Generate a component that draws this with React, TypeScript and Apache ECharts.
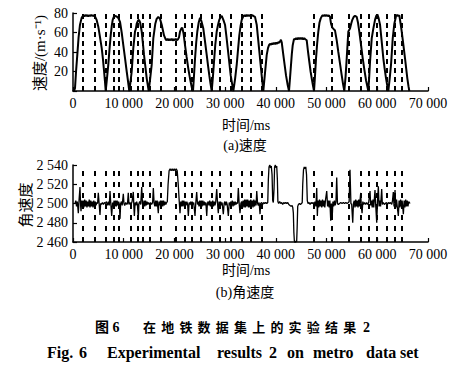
import React, { useEffect, useRef } from "react";
import * as echarts from "echarts";

// x positions (ms) of the dashed segment boundaries
const segmentBounds: number[] = [
  1972, 4338, 6508, 8085, 9071, 11438, 12818, 13804, 15184, 17354, 20312, 22086,
  23467, 25242, 27411, 28988, 31158, 33327, 35102, 37271, 47526, 51075, 54428,
  56794, 58372, 59950, 61922, 63499, 64880,
];

const xTicks = { min: 0, max: 70000, interval: 10000 };
const speedTicks = { min: 0, max: 80, interval: 20 };
const angTicks = { min: 2460, max: 2540, interval: 20 };

// speed (m/s) vs time (ms)
const speedPart1: [number, number][] = [
  [200, 0], [394, 3], [600, 20], [848, 37], [1100, 55], [1380, 68], [1700, 75], [2031, 77.5],
  [2200, 76.5], [2400, 78], [2600, 76.8], [2800, 77.9], [3000, 76.6], [3200, 77.8], [3400, 76.9],
  [3600, 78.1], [3800, 77], [4000, 77.7], [4200, 76.8], [4338, 76.5],
  [4650, 73], [4989, 66], [5300, 56], [5660, 44], [5900, 33], [6113, 21], [6300, 10], [6448, 0],
  [6700, 13], [6961, 27], [7200, 43], [7434, 57], [7650, 67], [7829, 73], [8050, 76], [8282, 77],
  [8600, 76.5], [8933, 75], [9268, 71], [9600, 60], [9919, 47], [10250, 34], [10590, 20], [10850, 10], [11102, 0],
  [11350, 10], [11576, 20], [11891, 44], [12226, 61], [12400, 64], [12562, 69], [12800, 72], [13015, 73],
  [13250, 70], [13548, 61], [13800, 48], [14001, 37], [14250, 26], [14533, 13], [14928, 0],
  [15200, 12], [15520, 27], [15835, 54], [16230, 69], [16500, 74], [16821, 76], [17150, 74], [17492, 68],
  [17945, 57], [18280, 53],
  [18450, 52], [18650, 53.5], [18850, 51.8], [19050, 53.2], [19250, 52], [19450, 53.6], [19650, 51.7],
  [19850, 53.3], [20050, 52], [20250, 53.5], [20450, 52.2], [20700, 53], [20903, 55],
  [21100, 61], [21350, 64], [21554, 65], [21800, 59], [22086, 47], [22400, 35], [22737, 23], [23100, 12],
  [23408, 4], [23664, 0],
];
const speedPart2: [number, number][] = [
  [23850, 15], [24058, 33], [24300, 50], [24512, 61], [24780, 70], [25044, 75], [25300, 72], [25695, 64],
  [26050, 50], [26366, 37], [26650, 25], [26878, 16], [27100, 8], [27352, 0],
  [27580, 14], [27805, 30], [28050, 47], [28338, 61], [28600, 68], [28850, 73], [29100, 76], [29324, 77],
  [29650, 73], [29974, 68], [30250, 56], [30507, 44], [30800, 30], [31098, 16], [31350, 8], [31611, 0],
  [31950, 12], [32282, 27], [32550, 43], [32794, 57], [33050, 67], [33268, 73], [33584, 76.5],
  [33800, 77.8], [34000, 76.6], [34200, 78], [34400, 76.8], [34600, 77.9], [34800, 76.7], [35000, 78.1],
  [35200, 77], [35400, 77.8], [35600, 76.8], [35890, 76],
  [36226, 68], [36450, 56], [36679, 44], [37074, 23], [37300, 11], [37528, 0],
  [37850, 18], [38198, 37], [38450, 44], [38651, 47], [38850, 48.5], [39050, 47.5], [39250, 49],
  [39450, 48], [39650, 49.3], [39850, 48.2], [40050, 49.5], [40250, 48.5], [40450, 50], [40650, 49.5],
  [40850, 51], [41000, 52.5], [41156, 50], [41471, 37], [41750, 26], [42004, 16], [42300, 7], [42595, 0],
  [42800, 14], [42990, 27], [43150, 38], [43325, 47], [43581, 53.5], [43800, 52.8], [44000, 54.2],
  [44200, 53], [44400, 54.5], [44600, 53.3], [44800, 54.6], [45000, 53.2], [45200, 54.4], [45400, 53],
  [45600, 54.2], [45800, 53.1], [46086, 52], [46350, 40], [46599, 30], [46850, 20], [47072, 13],
  [47300, 6], [47526, 0],
];
const speedPart3: [number, number][] = [
  [47700, 14], [47921, 33.5], [48150, 49], [48374, 61], [48600, 70], [48847, 74.5], [49044, 76.5],
  [49250, 77.8], [49450, 76.8], [49650, 78], [49850, 77], [50050, 77.8], [50250, 76.8], [50450, 77.5],
  [50680, 76], [50878, 69], [51134, 65], [51400, 63.5], [51666, 62], [52000, 52], [52317, 40],
  [52650, 28], [52988, 16], [53250, 7], [53500, 0],
  [53750, 15], [53973, 33.5], [54289, 61], [54624, 64], [54850, 69], [55078, 73], [55350, 76], [55610, 77],
  [55946, 76], [56200, 70], [56458, 61], [56800, 47], [57129, 33.5], [57450, 22], [57780, 11], [58233, 0],
  [58400, 14], [58568, 30], [58750, 43], [58904, 54], [59219, 64], [59554, 73], [59800, 77], [60008, 78.5],
  [60250, 75], [60540, 68], [60850, 52], [61192, 33.5], [61450, 23], [61724, 13], [61950, 6], [62178, 0],
  [62450, 13], [62710, 27], [62900, 42], [63045, 54], [63361, 69], [63696, 77], [63900, 78], [64100, 77],
  [64347, 77.5], [64600, 69], [64820, 61], [65150, 47], [65470, 33.5], [65700, 23], [65924, 13],
  [66150, 5], [66319, 0],
];

// angular velocity vs time (ms)
const angularPart1: [number, number][] = [
  [400, 2500], [550, 2503], [700, 2497], [850, 2502], [1050, 2490], [1200, 2504], [1380, 2517], [1500, 2498],
  [1580, 2492], [1700, 2503], [1850, 2497], [2000, 2503], [2150, 2496], [2300, 2504], [2450, 2497],
  [2600, 2503], [2750, 2496], [2900, 2502], [3050, 2497], [3200, 2504], [3350, 2496], [3500, 2503],
  [3650, 2497], [3800, 2502], [3950, 2496], [4100, 2503], [4250, 2497], [4400, 2502], [4550, 2498],
  [4700, 2501], [4850, 2500], [4990, 2511], [5150, 2500], [5320, 2488], [5450, 2500], [5600, 2499],
  [5800, 2501], [6000, 2499], [6200, 2501], [6400, 2500], [6600, 2502], [6800, 2498], [7000, 2502],
  [7150, 2498], [7300, 2513], [7450, 2500], [7630, 2487], [7800, 2501], [7950, 2497], [8100, 2503],
  [8250, 2497], [8400, 2503], [8550, 2497], [8700, 2503], [8850, 2498], [9000, 2502], [9150, 2499],
  [9270, 2484], [9400, 2500], [9550, 2502], [9700, 2498], [9920, 2510], [10050, 2500], [10200, 2498],
  [10400, 2501], [10600, 2499], [10750, 2500], [10900, 2511], [11050, 2499], [11250, 2501], [11450, 2499],
  [11650, 2502], [11890, 2512], [12000, 2497], [12100, 2487], [12250, 2501], [12400, 2498], [12550, 2502],
  [12700, 2499], [12880, 2485], [13000, 2500], [13150, 2502], [13350, 2499], [13550, 2517], [13700, 2500],
  [13850, 2497], [14000, 2503], [14150, 2497], [14300, 2503], [14450, 2498], [14600, 2502], [14750, 2499],
  [14900, 2501], [15100, 2499], [15300, 2501], [15500, 2499], [15700, 2501], [15840, 2516], [16000, 2500],
  [16150, 2497], [16300, 2503], [16450, 2497], [16600, 2503], [16820, 2490], [16950, 2502], [17100, 2498],
  [17250, 2503], [17400, 2497], [17550, 2503], [17700, 2497], [17850, 2503], [18000, 2498], [18150, 2502],
  [18300, 2499], [18450, 2501], [18600, 2502],
  [18750, 2520], [18950, 2534], [19150, 2536], [19350, 2534], [19550, 2536], [19750, 2534], [19950, 2536],
  [20150, 2534], [20350, 2536], [20550, 2534], [20750, 2520], [20950, 2502],
];
const angularPart2: [number, number][] = [
  [21100, 2490], [21250, 2502], [21400, 2497], [21550, 2503], [21700, 2497], [21850, 2503], [22000, 2498],
  [22150, 2502], [22300, 2498], [22450, 2502], [22600, 2499], [22740, 2487], [22900, 2501], [23050, 2499],
  [23200, 2502], [23350, 2498], [23500, 2502], [23650, 2499], [23800, 2501], [24060, 2487], [24200, 2500],
  [24390, 2512], [24550, 2499], [24700, 2502], [24850, 2497], [25000, 2503], [25150, 2497], [25300, 2503],
  [25450, 2497], [25600, 2503], [25750, 2498], [25900, 2502], [26050, 2498], [26200, 2501], [26370, 2487],
  [26500, 2500], [26650, 2502], [26800, 2498], [26950, 2503], [27100, 2497], [27250, 2502], [27400, 2498],
  [27550, 2503], [27700, 2497], [27850, 2502], [28000, 2498], [28150, 2502], [28340, 2515], [28500, 2500],
  [28650, 2490], [28800, 2502], [28950, 2498], [29100, 2502], [29250, 2498], [29400, 2501], [29640, 2489],
  [29800, 2500], [29950, 2502], [30100, 2498], [30250, 2502], [30400, 2499], [30630, 2487], [30800, 2501],
  [30950, 2498], [31100, 2502], [31250, 2498], [31400, 2503], [31550, 2497], [31700, 2502], [31850, 2498],
  [32000, 2502], [32150, 2499], [32300, 2501], [32450, 2500], [32600, 2516], [32750, 2501], [32930, 2490],
  [33100, 2500], [33250, 2502], [33400, 2498], [33550, 2503], [33700, 2496], [33850, 2504], [34000, 2496],
  [34150, 2504], [34300, 2497], [34450, 2504], [34600, 2496], [34750, 2503], [34900, 2496], [35050, 2504],
  [35200, 2497], [35350, 2503], [35500, 2496], [35650, 2504], [35800, 2497], [35950, 2503], [36100, 2498],
  [36230, 2513], [36400, 2500], [36550, 2498], [36700, 2501], [36880, 2489], [37000, 2500], [37200, 2501],
  [37400, 2499], [37600, 2501], [37800, 2500], [38000, 2501], [38200, 2500], [38400, 2501],
  [38520, 2525], [38650, 2538], [38800, 2540], [38950, 2537], [39100, 2539], [39250, 2530], [39380, 2503],
  [39500, 2501], [39640, 2515], [39750, 2538], [39900, 2540], [40050, 2537], [40170, 2539], [40300, 2525],
  [40400, 2502],
];
const angularPart3: [number, number][] = [
  [40550, 2500], [40750, 2502], [40950, 2500], [41150, 2501], [41350, 2499], [41550, 2501], [41750, 2500],
  [41950, 2501], [42150, 2500], [42350, 2501], [42550, 2499], [42790, 2498], [43000, 2497], [43200, 2498],
  [43330, 2496], [43450, 2490], [43550, 2470], [43650, 2461], [43800, 2459], [43950, 2461], [44100, 2460],
  [44200, 2475], [44310, 2497], [44450, 2499], [44650, 2500], [44850, 2499], [45050, 2500], [45200, 2501],
  [45300, 2520], [45450, 2535], [45600, 2538], [45750, 2536], [45900, 2538], [46050, 2530], [46200, 2503],
  [46350, 2500], [46550, 2501], [46750, 2499], [46950, 2501], [47150, 2500], [47350, 2501], [47550, 2499],
  [47720, 2502], [47900, 2497], [48060, 2516], [48180, 2487], [48300, 2503], [48450, 2496], [48600, 2504],
  [48750, 2497], [48900, 2503], [49050, 2496], [49200, 2504], [49350, 2497], [49500, 2503], [49650, 2496],
  [49800, 2504], [50030, 2513], [50200, 2497], [50350, 2503], [50500, 2496], [50650, 2503], [50820, 2482],
  [50950, 2500], [51100, 2484], [51250, 2502], [51400, 2497], [51550, 2503], [51700, 2498], [51850, 2502],
  [52000, 2527], [52150, 2500], [52320, 2499], [52550, 2500], [52800, 2501], [53050, 2500], [53300, 2501],
  [53550, 2500], [53800, 2501], [54050, 2500], [54290, 2501], [54450, 2502], [54620, 2535], [54800, 2500],
  [54950, 2499], [55160, 2480], [55300, 2500], [55450, 2503], [55600, 2496], [55750, 2504], [55900, 2497],
  [56050, 2503], [56200, 2496], [56350, 2504], [56500, 2497], [56730, 2511], [56850, 2497], [57000, 2490],
  [57150, 2502], [57300, 2499], [57500, 2501], [57700, 2499], [57900, 2501], [58100, 2499], [58300, 2501],
  [58570, 2513], [58700, 2498], [58850, 2503], [59000, 2496], [59150, 2504], [59300, 2496], [59550, 2514],
  [59700, 2497], [59890, 2480], [60050, 2503], [60210, 2518], [60350, 2497], [60500, 2503], [60650, 2497],
  [60870, 2515], [61000, 2499], [61200, 2501], [61400, 2499], [61600, 2500], [61800, 2501], [62000, 2499],
  [62200, 2501], [62400, 2500], [62600, 2501], [62850, 2499], [63000, 2503], [63160, 2512], [63300, 2497],
  [63500, 2514], [63650, 2496], [63800, 2504], [63950, 2496], [64150, 2487], [64300, 2503], [64450, 2496],
  [64600, 2504], [64750, 2497], [64900, 2503], [65140, 2489], [65300, 2503], [65450, 2496], [65600, 2504],
  [65750, 2497], [65900, 2503], [66050, 2497], [66200, 2502], [66460, 2500],
];

const yNameTop = "速度/(m·s⁻¹)";
const yNameBottom = "角速度";
const xName = "时间/ms";
const subTitleA = "(a)速度";
const subTitleB = "(b)角速度";
const captionCnHead = "图 6";
const captionCnBody = "在地铁数据集上的实验结果";
const captionCnTail = "2";
const captionEnWords = ["Fig.", "6", "Experimental", "results", "2", "on", "metro", "data", "set"];

const FONT = '"Liberation Serif", "Noto Sans CJK SC", serif';

const fmt = (v: number) =>
  v === 0 ? "0" : String(v).replace(/\B(?=(\d{3})+(?!\d))/g, " ");

export default function App() {
  const ref = useRef<HTMLDivElement>(null);
  useEffect(() => {
    if (!ref.current) return;
    const chart = echarts.init(ref.current, null, { renderer: "svg" });
    const axisLine = { show: true, lineStyle: { color: "#000", width: 1.5 } };
    const axisTick = { show: true, inside: true, length: 4, lineStyle: { color: "#000", width: 1.2 } };
    const labelStyle = { color: "#000", fontFamily: FONT, fontSize: 14 };
    const mark = (dash: number[]) => ({
      silent: true,
      symbol: ["none", "none"],
      label: { show: false },
      lineStyle: { color: "#000", type: dash, width: 2, opacity: 1 },
      data: segmentBounds.map((x) => ({ xAxis: x })),
    });

    const enX = [47, 79, 107, 217, 269, 287, 313, 366, 400];
    const cnChars = captionCnBody.split("");
    const txt = (x: number, y: number, text: string, font: string, extra: any = {}) => ({
      type: "text", x, y, ...extra,
      style: { text, font, fill: "#000", textAlign: "center", textVerticalAlign: "middle", ...(extra.style || {}) },
    });
    const graphics: any[] = [
      txt(40, 53, yNameTop, `15px ${FONT}`, { rotation: Math.PI / 2 }),
      txt(26, 205, yNameBottom, `15px ${FONT}`, { rotation: Math.PI / 2 }),
      txt(246, 125, xName, `14px ${FONT}`),
      txt(245, 145, subTitleA, `14px ${FONT}`),
      txt(246, 270, xName, `14px ${FONT}`),
      txt(245, 292, subTitleB, `14px ${FONT}`),
      txt(95, 327, captionCnHead, `bold 14px ${FONT}`, { style: { textAlign: "left" } }),
      ...cnChars.map((c, i) =>
        txt(143 + i * 18.2, 327, c, `bold 13px ${FONT}`, { style: { textAlign: "left" } })
      ),
      txt(363, 327, captionCnTail, `bold 14px ${FONT}`, { style: { textAlign: "left" } }),
      ...captionEnWords.map((w, i) =>
        txt(enX[i], 352, w, `bold 16px ${FONT}`, { style: { textAlign: "left" } })
      ),
    ];

    chart.setOption({
      animation: false,
      backgroundColor: "#fff",
      grid: [
        { left: 73, top: 13, width: 355, height: 78 },
        { left: 73, top: 165, width: 355, height: 77 },
      ],
      xAxis: [0, 1].map((i) => ({
        type: "value",
        gridIndex: i,
        ...xTicks,
        axisLine,
        axisTick,
        splitLine: { show: false },
        axisLabel: { ...labelStyle, margin: 5, formatter: fmt },
      })),
      yAxis: [
        {
          type: "value", gridIndex: 0, ...speedTicks, axisLine, axisTick,
          splitLine: { show: false },
          axisLabel: { ...labelStyle, margin: 5, formatter: (v: number) => (v === 0 ? "" : String(v)) },
        },
        {
          type: "value", gridIndex: 1, ...angTicks, axisLine, axisTick,
          splitLine: { show: false },
          axisLabel: { ...labelStyle, margin: 5, formatter: fmt },
        },
      ],
      series: [
        {
          type: "line", xAxisIndex: 0, yAxisIndex: 0, showSymbol: false,
          data: [...speedPart1, ...speedPart2, ...speedPart3],
          lineStyle: { color: "#000", width: 2 },
          markLine: mark([5, 4]),
        },
        {
          type: "line", xAxisIndex: 1, yAxisIndex: 1, showSymbol: false,
          data: [...angularPart1, ...angularPart2, ...angularPart3],
          lineStyle: { color: "#000", width: 1.3 },
          markLine: mark([5, 6]),
        },
      ],
      graphic: graphics,
    });
    return () => chart.dispose();
  }, []);
  return (
    <div
      ref={ref}
      style={{ position: "fixed", left: 0, top: 0, width: 469, height: 368, background: "#fff" }}
    />
  );
}
